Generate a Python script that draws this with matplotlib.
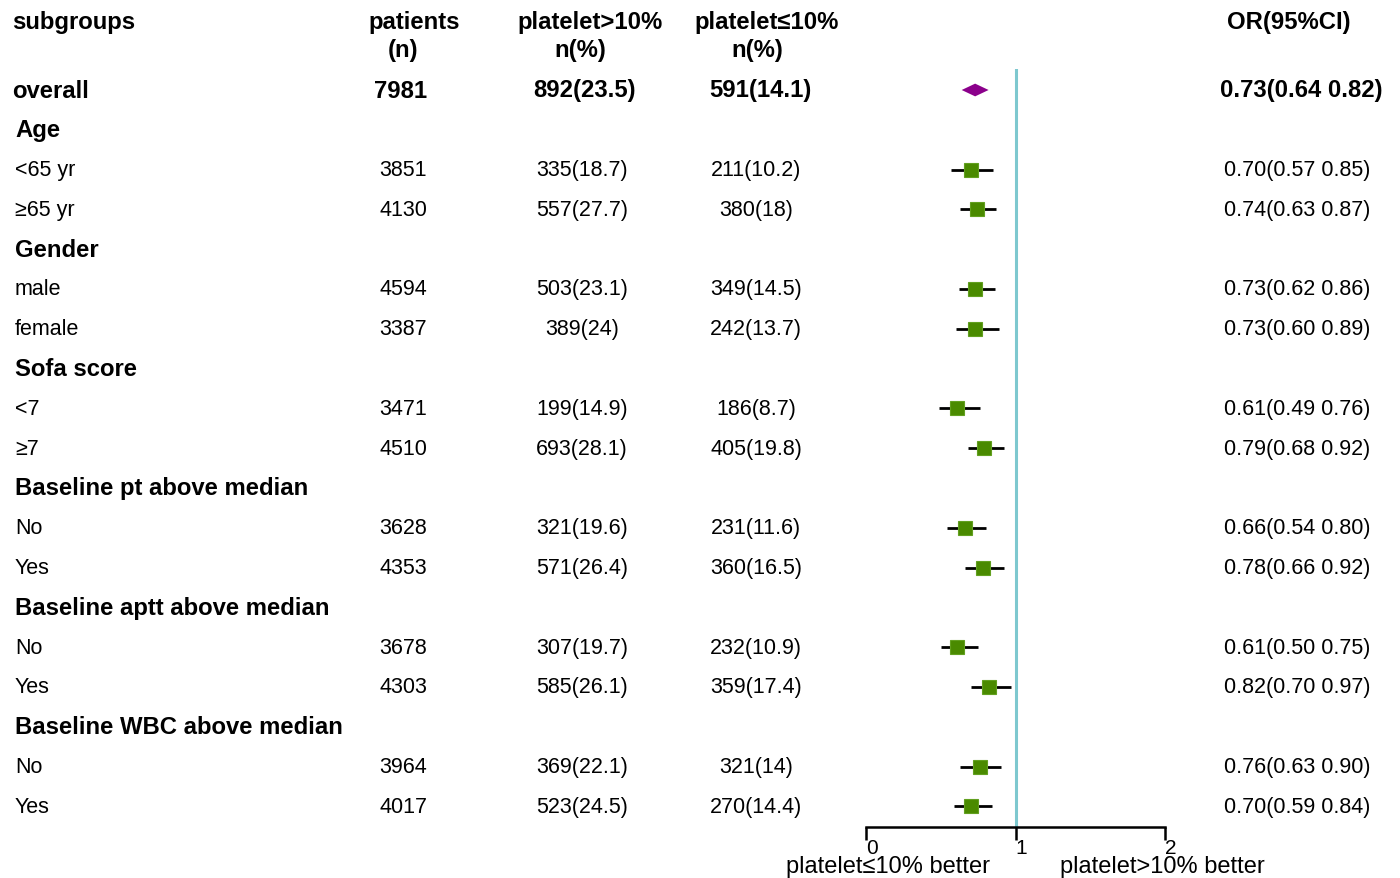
import matplotlib
matplotlib.use("Agg")
import matplotlib.pyplot as plt
import numpy as np

plt.rcParams['font.family'] = ['Liberation Sans', 'DejaVu Sans']

# ---------------- data ----------------
labels = ["overall", "Age", "<65 yr", "≥65 yr", "Gender", "male", "female",
          "Sofa score", "<7", "≥7", "Baseline pt above median", "No", "Yes",
          "Baseline aptt above median", "No", "Yes",
          "Baseline WBC above median", "No", "Yes"]
is_header = [False, True, False, False, True, False, False, True, False, False,
             True, False, False, True, False, False, True, False, False]
patients = ["7981", "", "3851", "4130", "", "4594", "3387", "", "3471", "4510",
            "", "3628", "4353", "", "3678", "4303", "", "3964", "4017"]
plt_gt10 = ["892(23.5)", "", "335(18.7)", "557(27.7)", "", "503(23.1)", "389(24)",
            "", "199(14.9)", "693(28.1)", "", "321(19.6)", "571(26.4)", "",
            "307(19.7)", "585(26.1)", "", "369(22.1)", "523(24.5)"]
plt_le10 = ["591(14.1)", "", "211(10.2)", "380(18)", "", "349(14.5)", "242(13.7)",
            "", "186(8.7)", "405(19.8)", "", "231(11.6)", "360(16.5)", "",
            "232(10.9)", "359(17.4)", "", "321(14)", "270(14.4)"]
or_est = [0.73, None, 0.70, 0.74, None, 0.73, 0.73, None, 0.61, 0.79, None,
          0.66, 0.78, None, 0.61, 0.82, None, 0.76, 0.70]
or_lo = [0.64, None, 0.57, 0.63, None, 0.62, 0.60, None, 0.49, 0.68, None,
         0.54, 0.66, None, 0.50, 0.70, None, 0.63, 0.59]
or_hi = [0.82, None, 0.85, 0.87, None, 0.86, 0.89, None, 0.76, 0.92, None,
         0.80, 0.92, None, 0.75, 0.97, None, 0.90, 0.84]
or_text = ["0.73(0.64 0.82)", "", "0.70(0.57 0.85)", "0.74(0.63 0.87)", "",
           "0.73(0.62 0.86)", "0.73(0.60 0.89)", "", "0.61(0.49 0.76)",
           "0.79(0.68 0.92)", "", "0.66(0.54 0.80)", "0.78(0.66 0.92)", "",
           "0.61(0.50 0.75)", "0.82(0.70 0.97)", "", "0.76(0.63 0.90)",
           "0.70(0.59 0.84)"]
x_ticks = [0, 1, 2]

# ---------------- layout ----------------
W, H = 1400, 879
fig = plt.figure(figsize=(W / 100, H / 100), dpi=100)

s = 39.8      # row spacing in px
y0 = 91.0     # first row centre in px

ax = fig.add_axes([0, 0, 1, 1])
ax.set_xlim(0, W)
ax.set_ylim((H - y0) / s, (0 - y0) / s)
ax.axis('off')

FS_N = 15.5
FS_B = 17.2

# headers
hdr_y = (23 - y0) / s
hdr_y2 = (51 - y0) / s
ax.text(12, hdr_y, "subgroups", fontsize=FS_B, fontweight='bold', ha='left', va='center')
ax.text(414, hdr_y, "patients", fontsize=FS_B, fontweight='bold', ha='center', va='center')
ax.text(403, hdr_y2, "(n)", fontsize=FS_B, fontweight='bold', ha='center', va='center')
ax.text(590, hdr_y, "platelet>10%", fontsize=FS_B, fontweight='bold', ha='center', va='center')
ax.text(580, hdr_y2, "n(%)", fontsize=FS_B, fontweight='bold', ha='center', va='center')
ax.text(767, hdr_y, "platelet≤10%", fontsize=FS_B, fontweight='bold', ha='center', va='center')
ax.text(757, hdr_y2, "n(%)", fontsize=FS_B, fontweight='bold', ha='center', va='center')
ax.text(1289, hdr_y, "OR(95%CI)", fontsize=FS_B, fontweight='bold', ha='center', va='center')

for i, lab in enumerate(labels):
    if i == 0:
        kw = dict(fontsize=FS_B, fontweight='bold')
        ax.text(12, i, lab, ha='left', va='center', **kw)
        ax.text(401, i, patients[i], ha='center', va='center', **kw)
        ax.text(585, i, plt_gt10[i], ha='center', va='center', **kw)
        ax.text(760, i, plt_le10[i], ha='center', va='center', **kw)
        ax.text(1301, i, or_text[i], ha='center', va='center', **kw)
    elif is_header[i]:
        ax.text(15, i, lab, fontsize=FS_B, fontweight='bold', ha='left', va='center')
    else:
        kw = dict(fontsize=FS_N)
        ax.text(15, i, lab, ha='left', va='center', **kw)
        ax.text(403, i, patients[i], ha='center', va='center', **kw)
        ax.text(582, i, plt_gt10[i], ha='center', va='center', **kw)
        ax.text(756, i, plt_le10[i], ha='center', va='center', **kw)
        ax.text(1297, i, or_text[i], ha='center', va='center', **kw)

# ---------------- forest panel ----------------
fx0, fx1 = 866, 1165
ftop, fbot = 70, 828
fa = fig.add_axes([fx0 / W, (H - fbot) / H, (fx1 - fx0) / W, (fbot - ftop) / H])
fa.set_xlim(0, 2)
fa.set_ylim((fbot - y0) / s, (ftop - y0) / s)
fa.patch.set_alpha(0)
for sp in ['top', 'left', 'right']:
    fa.spines[sp].set_visible(False)
fa.spines['bottom'].set_linewidth(1.8)
fa.set_yticks([])
fa.set_xticks(x_ticks)
fa.set_xticklabels([str(t) for t in x_ticks], fontsize=15)
for t in fa.get_xticklabels():
    t.set_horizontalalignment('left')
fa.tick_params(axis='x', direction='out', length=9, width=1.8, pad=-1)

fa.axvline(1, color='#7ec8cf', lw=2.2, zorder=1)

for i in range(len(labels)):
    if or_est[i] is None:
        continue
    if i == 0:
        d = 0.16
        xs = [or_lo[i], or_est[i], or_hi[i], or_est[i]]
        ys = [i, i - d, i, i + d]
        fa.fill(xs, ys, color='#8b008b', lw=0, zorder=3)
    else:
        fa.plot([or_lo[i], or_hi[i]], [i, i], color='black', lw=2, zorder=2,
                solid_capstyle='butt')
        fa.plot([or_est[i]], [i], marker='s', markersize=10,
                markerfacecolor='#4a8a00', markeredgecolor='#62a020',
                markeredgewidth=0.8, zorder=3)

# bottom labels
fig.text(888 / W, 1 - 867 / H, "platelet≤10% better", fontsize=17, ha='center', va='center')
fig.text(1162 / W, 1 - 867 / H, "platelet>10% better", fontsize=17, ha='center', va='center')

fig.savefig("out.png", dpi=100)
